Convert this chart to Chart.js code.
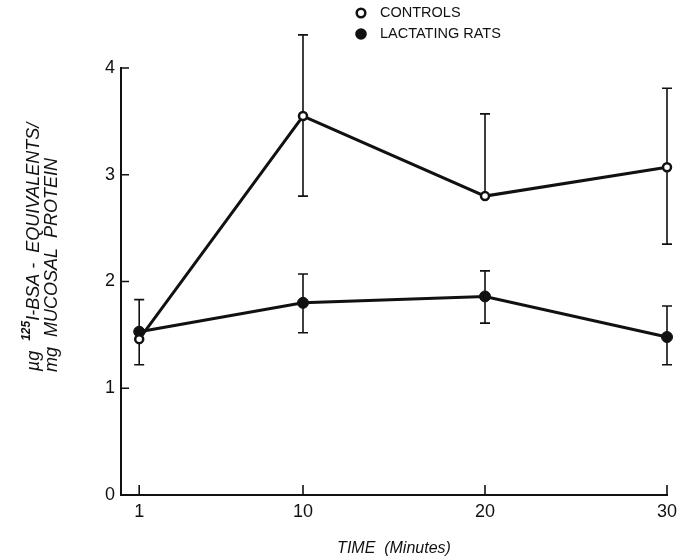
<!DOCTYPE html>
<html>
<head>
<meta charset="utf-8">
<script src="https://cdn.jsdelivr.net/npm/chart.js"></script>
<style>
  html, body { margin: 0; padding: 0; background: #fff; }
  #wrap { width: 695px; height: 560px; }
</style>
</head>
<body>
<div id="wrap"><canvas id="chart" width="695" height="560"></canvas></div>
<script>
// time points (minutes) and tick labels
const minutes = [1, 10, 20, 30];
const xTicks = [1, 10, 20, 30];
const yTicks = [0, 1, 2, 3, 4];

// µg 125I-BSA equivalents / mg mucosal protein
const controls = [1.46, 3.55, 2.80, 3.07];
const controlsHigh = [null, 4.31, 3.57, 3.81];
const controlsLow = [null, 2.80, null, 2.35];

const lactating = [1.53, 1.80, 1.86, 1.48];
const lactatingHigh = [1.83, 2.07, 2.10, 1.77];
const lactatingLow = [1.22, 1.52, 1.61, 1.22];

const FONT = '"Liberation Sans", Arial, sans-serif';
const INK = '#111';

// 오차 막대: 점보다 먼저 그려서 흰 원 안으로 선이 들어가지 않게 함
const errorBars = {
  id: 'errorBars',
  beforeDatasetsDraw(chart) {
    const { ctx, scales: { x, y } } = chart;
    ctx.save();
    ctx.strokeStyle = INK;
    ctx.lineWidth = 1.6;
    chart.data.datasets.forEach(ds => {
      ds.data.forEach((pt, i) => {
        const hi = ds.errHigh[i], lo = ds.errLow[i];
        if (hi == null && lo == null) return;
        const px = x.getPixelForValue(pt.x);
        const top = y.getPixelForValue(hi != null ? hi : pt.y);
        const bot = y.getPixelForValue(lo != null ? lo : pt.y);
        ctx.beginPath();
        ctx.moveTo(px, top);
        ctx.lineTo(px, bot);
        if (hi != null) { ctx.moveTo(px - 5, top); ctx.lineTo(px + 5, top); }
        if (lo != null) { ctx.moveTo(px - 5, bot); ctx.lineTo(px + 5, bot); }
        ctx.stroke();
      });
    });
    ctx.restore();
  }
};

// 축 안쪽으로 향하는 눈금, 축 제목, 범례
const decorations = {
  id: 'decorations',
  afterDraw(chart) {
    const { ctx, chartArea, scales: { x, y } } = chart;
    ctx.save();
    ctx.strokeStyle = INK;
    ctx.lineWidth = 1.6;
    ctx.beginPath();
    x.ticks.forEach(t => {
      const px = x.getPixelForValue(t.value);
      ctx.moveTo(px, chartArea.bottom);
      ctx.lineTo(px, chartArea.bottom - 10);
    });
    y.ticks.forEach(t => {
      const py = y.getPixelForValue(t.value);
      ctx.moveTo(chartArea.left, py);
      ctx.lineTo(chartArea.left + 8, py);
    });
    ctx.stroke();

    ctx.fillStyle = INK;

    // x axis title
    ctx.font = 'italic 16px ' + FONT;
    ctx.textAlign = 'center';
    ctx.textBaseline = 'middle';
    ctx.fillText('TIME  (Minutes)', (chartArea.left + chartArea.right) / 2, 549);

    // y axis title, two rotated lines
    ctx.save();
    ctx.translate(39, 247);
    ctx.rotate(-Math.PI / 2);
    ctx.textBaseline = 'alphabetic';
    const parts = [
      ['µg  ', 'italic 18px ' + FONT, 0],
      ['125', 'italic bold 12px ' + FONT, -9],
      ['I-BSA -  EQUIVALENTS/', 'italic 18px ' + FONT, 0]
    ];
    let total = 0;
    parts.forEach(p => { ctx.font = p[1]; total += ctx.measureText(p[0]).width; });
    let cx = -total / 2;
    ctx.textAlign = 'left';
    parts.forEach(p => {
      ctx.font = p[1];
      ctx.fillText(p[0], cx, p[2]);
      cx += ctx.measureText(p[0]).width;
    });
    ctx.restore();

    ctx.save();
    ctx.translate(57, 265);
    ctx.rotate(-Math.PI / 2);
    ctx.font = 'italic 18px ' + FONT;
    ctx.textAlign = 'center';
    ctx.textBaseline = 'alphabetic';
    ctx.fillText('mg  MUCOSAL  PROTEIN', 0, 0);
    ctx.restore();

    // legend
    ctx.font = '14.5px ' + FONT;
    ctx.textAlign = 'left';
    ctx.textBaseline = 'middle';
    ctx.lineWidth = 2.5;
    ctx.beginPath();
    ctx.arc(361, 13, 4.3, 0, Math.PI * 2);
    ctx.fillStyle = '#fff';
    ctx.fill();
    ctx.stroke();
    ctx.fillStyle = INK;
    ctx.beginPath();
    ctx.arc(361, 34, 5.8, 0, Math.PI * 2);
    ctx.fill();
    ctx.fillText('CONTROLS', 380, 13);
    ctx.fillText('LACTATING RATS', 380, 34);
    ctx.restore();
  }
};

new Chart(document.getElementById('chart'), {
  type: 'line',
  data: {
    datasets: [
      {
        label: 'CONTROLS',
        data: minutes.map((m, i) => ({ x: m, y: controls[i] })),
        errHigh: controlsHigh,
        errLow: controlsLow,
        borderColor: INK,
        borderWidth: 3,
        pointRadius: 4,
        pointBorderWidth: 2.5,
        pointBackgroundColor: '#fff',
        pointBorderColor: INK,
        tension: 0,
        clip: false
      },
      {
        label: 'LACTATING RATS',
        data: minutes.map((m, i) => ({ x: m, y: lactating[i] })),
        errHigh: lactatingHigh,
        errLow: lactatingLow,
        borderColor: INK,
        borderWidth: 3,
        pointRadius: 5.5,
        pointBorderWidth: 1,
        pointBackgroundColor: INK,
        pointBorderColor: INK,
        tension: 0,
        clip: false
      }
    ]
  },
  options: {
    responsive: false,
    animation: false,
    devicePixelRatio: 1,
    layout: { padding: { top: 68, right: 28, bottom: 0, left: 0 } },
    plugins: {
      legend: { display: false },
      tooltip: { enabled: false }
    },
    scales: {
      x: {
        type: 'linear',
        min: 0,
        max: 30,
        afterBuildTicks: scale => { scale.ticks = xTicks.map(v => ({ value: v })); },
        afterFit: scale => { scale.height = 65; },
        grid: { display: false, drawTicks: false },
        border: { display: true, color: INK, width: 2 },
        ticks: { color: INK, padding: 6, font: { family: FONT, size: 18 } }
      },
      y: {
        min: 0,
        max: 4,
        afterBuildTicks: scale => { scale.ticks = yTicks.map(v => ({ value: v })); },
        afterFit: scale => { scale.width = 121; },
        grid: { display: false, drawTicks: false },
        border: { display: true, color: INK, width: 2 },
        ticks: { color: INK, padding: 6, font: { family: FONT, size: 18 } }
      }
    }
  },
  plugins: [errorBars, decorations]
});
</script>
</body>
</html>
